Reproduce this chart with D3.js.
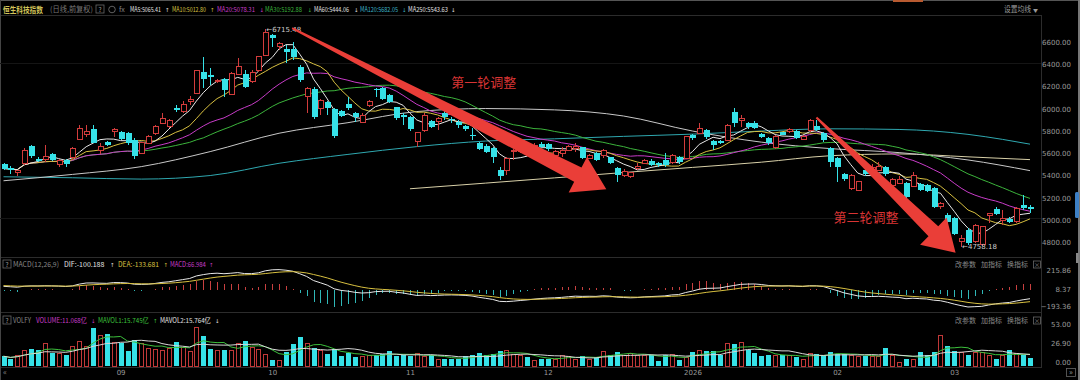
<!DOCTYPE html>
<html>
<head>
<meta charset="utf-8">
<script src="https://cdn.jsdelivr.net/npm/d3@7"></script>
<style>
  body { margin: 0; background: #000; }
  svg { display: block; font-family: "Noto Sans CJK SC", "DejaVu Sans", sans-serif; }
</style>
</head>
<body>
<script>
// daily candles (index 0 = first visible day)
var open = [5502,5469,5424,5508,5664,5553,5544,5592,5502,5538,5559,5727,5772,5814,5628,5700,5793,5787,5778,5718,
  5598,5688,5778,5868,5838,6009,5973,6063,6138,6333,6303,6243,6264,6132,6309,6312,6243,6348,6483,6663,
  6556,6541,6541,6377,6107,6182,6003,6062,5994,5982,6042,5958,5874,6033,6182,6191,6122,6012,5943,5922,
  5703,5808,5892,5883,5958,5910,5880,5844,5763,5688,5667,5649,5449,5449,5614,5620,5660,5640,5680,5682,
  5584,5599,5629,5643,5652,5554,5599,5584,5563,5464,5404,5389,5464,5509,5533,5509,5539,5518,5569,5554,
  5760,5778,5808,5709,5709,5718,5973,5892,5874,5874,5772,5739,5652,5787,5793,5799,5724,5802,5844,5778,
  5644,5554,5413,5284,5269,5449,5449,5449,5473,5314,5329,5329,5305,5323,5314,5284,5120,5045,5015,4806,
  4910,4806,4776,5045,5099,4994,5012,4985,5135,5114];
var high = [5514,5484,5454,5643,5676,5570,5673,5600,5553,5550,5658,5853,5853,5853,5688,5712,5823,5800,5793,5733,
  5705,5760,5853,5958,5905,6033,6072,6114,6348,6468,6363,6270,6273,6333,6453,6348,6348,6474,6715.48,6672,
  6601,6571,6601,6392,6197,6197,6092,6071,6003,5988,6107,5973,5958,6080,6190,6200,6135,6020,5958,5935,
  5793,5958,5900,5928,5988,5925,5895,5850,5823,5700,5680,5660,5473,5563,5635,5665,5675,5690,5700,5690,
  5625,5658,5670,5694,5660,5595,5610,5640,5570,5479,5455,5435,5509,5545,5545,5520,5599,5592,5580,5758,
  5770,5868,5820,5720,5718,5865,6003,5943,5885,5890,5780,5748,5760,5795,5823,5810,5765,5910,5898,5790,
  5655,5563,5425,5413,5355,5460,5500,5520,5485,5375,5395,5340,5434,5335,5325,5295,5160,5060,5025,4866,
  4925,4965,4950,5066,5120,5090,5025,5115,5225,5135];
var low = [5454,5418,5400,5493,5562,5520,5523,5535,5478,5478,5544,5718,5748,5688,5592,5665,5748,5718,5673,5553,
  5590,5680,5763,5862,5830,5973,5964,6033,6132,6183,6213,6235,6108,6123,6303,6183,6234,6333,6477,6558,
  6526,6407,6437,6242,5958,5904,5943,5943,5733,5928,5988,5883,5868,6020,6107,6080,6050,5900,5853,5800,
  5658,5793,5825,5808,5898,5875,5830,5800,5718,5625,5600,5515,5359,5404,5539,5605,5625,5625,5645,5620,
  5575,5569,5620,5614,5545,5545,5530,5554,5500,5344,5389,5380,5449,5500,5485,5480,5479,5505,5505,5545,
  5722,5770,5730,5629,5680,5708,5838,5838,5820,5815,5740,5675,5640,5760,5785,5725,5715,5790,5800,5705,
  5479,5344,5350,5270,5260,5400,5440,5440,5400,5305,5320,5200,5300,5260,5255,5110,5100,4975,4865,4758.18,
  4780,4795,4770,4970,5045,4955,4975,4975,5090,5060];
var close = [5463,5454,5442,5628,5574,5535,5574,5544,5532,5502,5643,5823,5793,5694,5658,5676,5814,5727,5688,5580,
  5694,5748,5838,5913,5892,5988,6042,6084,6342,6267,6288,6258,6168,6318,6378,6198,6324,6468,6684,6633,
  6586,6511,6466,6257,6182,5922,6077,6003,5754,5934,6003,5922,5943,6062,6167,6092,6062,5913,5922,5814,
  5784,5943,5838,5913,5922,5895,5850,5814,5754,5637,5614,5569,5398,5554,5629,5650,5640,5670,5660,5635,
  5614,5629,5658,5658,5554,5584,5539,5629,5509,5404,5434,5425,5479,5533,5494,5491,5494,5581,5518,5748,
  5733,5823,5742,5673,5688,5853,5868,5913,5832,5826,5748,5688,5748,5766,5814,5733,5754,5898,5808,5718,
  5524,5473,5365,5404,5344,5413,5473,5485,5413,5365,5365,5210,5404,5269,5264,5120,5150,4985,4874,4836,
  4791,4955,4940,5060,5054,5015,4985,5105,5105,5096];
// turnover, 亿
var volume = [13.6,10.4,15,21.7,24,22.6,32,18,18,15,28.5,35,28.5,53,43,44,34,32,21,36,
  32,25,24,22,25,33,26,21,54,42,24,22,22,23,32,35,27,24,17,9,
  9,20,30,41,32,25,22,17,24,14,18,13,14,15,15,17,21,14,15,14,
  18,13.6,15,10,10,10,10,13.6,15,18,15,17,21,21.7,17,15,12.7,8,10,10,
  10,15,13.6,10,13.6,10,12.7,21,15,19.5,15,18,15,15,15,7,15,17,8,12.7,
  19.5,22.6,21,21,15,31.7,30,34,22.6,18,13.6,16,15,15,15,12.7,10,18,17,15,
  19.5,17,17,15,13.6,13.6,13.6,13.6,25,16,6,10,10,19.5,15,19.5,43,28.5,21,19.5,
  15,19.5,19.5,15,10,15,22.6,18,15,11.068];

// long moving averages at sample days
var ma60Idx = [0,10,20,30,40,50,60,70,80,90,100,110,120,130,140,149];
var ma60Val = [5353,5410,5480,5615,5780,5875,5975,6002,5990,5935,5800,5700,5642,5606,5540,5444];
var ma120Idx = [0,10,20,30,40,50,60,70,80,90,100,110,120,130,140,145,149];
var ma120Val = [5389,5380,5368,5400,5510,5590,5660,5710,5730,5752,5772,5800,5820,5814,5770,5725,5682];
var ma250Idx = [59,70,80,90,100,110,120,130,140,149];
var ma250Val = [5281,5332,5379,5427,5473,5520,5578,5594,5568,5543];

var monthIdx = [17, 39, 59, 79, 100, 121, 138];
var monthLabels = ["09", "10", "11", "12", "2026", "02", "03"];
var priceTicks = [6600, 6400, 6200, 6000, 5800, 5600, 5400, 5200, 5000, 4800];
var macdTicks = [215.86, 8.37, -193.36];
var volTicks = [53, 26.9, 0];
var macdSeed = {dif: 40, dea: 45};

var headerItems = [
  {x: 130, w: 31, t: "MA5:5065.41", c: "#e0e0e0"}, {x: 165, t: "↑", c: "#e0e0e0"},
  {x: 172, w: 34, t: "MA10:5012.80", c: "#d8c040"}, {x: 210, t: "↑", c: "#d8c040"},
  {x: 217, w: 38, t: "MA20:5078.31", c: "#c83cc8"}, {x: 259.5, t: "↓", c: "#c83cc8"},
  {x: 265, w: 37, t: "MA30:5192.88", c: "#3cb43c"}, {x: 307.5, t: "↓", c: "#3cb43c"},
  {x: 314, w: 35, t: "MA60:5444.06", c: "#e0e0e0"}, {x: 354, t: "↓", c: "#e0e0e0"},
  {x: 360, w: 38, t: "MA120:5682.05", c: "#3cb4c8"}, {x: 402, t: "↓", c: "#3cb4c8"},
  {x: 408, w: 40, t: "MA250:5543.63", c: "#e0e0e0"}, {x: 451, t: "↓", c: "#e0e0e0"}
];
var macdItems = [
  {x: 13, w: 46, t: "MACD(12,26,9)", c: "#888"},
  {x: 64, w: 42, t: "DIF:-100.188", c: "#e0e0e0"}, {x: 110, t: "↑", c: "#e0e0e0"},
  {x: 118, w: 41, t: "DEA:-133.681", c: "#d8c040"}, {x: 163.5, t: "↑", c: "#d8c040"},
  {x: 170, w: 36, t: "MACD:66.984", c: "#c83cc8"}, {x: 209, t: "↑", c: "#c83cc8"}
];
var volItems = [
  {x: 13, w: 18, t: "VOLFY", c: "#888"},
  {x: 36, w: 51, t: "VOLUME:11.068亿", c: "#c83cc8"}, {x: 91, t: "↓", c: "#c83cc8"},
  {x: 98, w: 51, t: "MAVOL1:15.745亿", c: "#3cc03c"}, {x: 153, t: "↑", c: "#3cc03c"},
  {x: 160, w: 51, t: "MAVOL2:15.764亿", c: "#e0e0e0"}, {x: 215, t: "↓", c: "#e0e0e0"}
];

var upColor = "#d23c3c", downColor = "#36e2e8";
var width = 1080, height = 380;

var x = d3.scaleLinear().domain([0, 149]).range([3.5, 1030]);
var y = d3.scaleLinear().domain([4800, 6600]).range([242.3, 42]);
var yMacd = d3.scaleLinear().domain([-193.36, 215.86]).range([307, 270]);
var yVol = d3.scaleLinear().domain([0, 53]).range([366, 328]);

function sma(arr, n) {
  return arr.map(function(d, i) { return d3.mean(arr.slice(Math.max(0, i - n + 1), i + 1)); });
}

var svg = d3.select("body").append("svg")
    .attr("width", width)
    .attr("height", height)
    .style("background", "#000");

svg.append("defs").append("clipPath").attr("id", "mainClip")
  .append("rect").attr("x", 0).attr("y", 16).attr("width", 1041).attr("height", 241);

// squeeze a text horizontally into w pixels (condensed look of the terminal font)
function fitText(sel, tx, ty, w) {
  var natural = sel.node().getComputedTextLength();
  var k = natural > 0 ? Math.min(1, w / natural) : 1;
  sel.attr("x", 0).attr("y", 0).attr("transform", "translate(" + tx + "," + ty + ") scale(" + k + ",1)");
}

// frame and separators
var sep = "#2c2c2c";
svg.append("line").attr("x1", 0).attr("x2", 1080).attr("y1", 0.5).attr("y2", 0.5).attr("stroke", "#555");
svg.append("rect").attr("x", 893).attr("y", 0).attr("width", 30).attr("height", 2).attr("fill", "#b85a30");
svg.append("line").attr("x1", 0).attr("x2", 1042).attr("y1", 15.5).attr("y2", 15.5).attr("stroke", sep);
[257.5, 312.5, 367.5].forEach(function(v) {
  svg.append("line").attr("x1", 0).attr("x2", 1042).attr("y1", v).attr("y2", v).attr("stroke", sep);
});
svg.append("line").attr("x1", 1041.5).attr("x2", 1041.5).attr("y1", 15).attr("y2", 368).attr("stroke", sep);
svg.append("line").attr("x1", 0.5).attr("x2", 0.5).attr("y1", 0).attr("y2", 380).attr("stroke", "#444");
svg.append("line").attr("x1", 1079).attr("x2", 1079).attr("y1", 0).attr("y2", 380).attr("stroke", "#777").attr("stroke-width", 2);
svg.append("rect").attr("x", 1075).attr("y", 192).attr("width", 4).attr("height", 26).attr("rx", 1.5).attr("fill", "#3d7fc4");
svg.append("rect").attr("x", 1076).attr("y", 253).attr("width", 2.5).attr("height", 10).attr("fill", "#888");

// header
fitText(svg.append("text").attr("font-size", 8.5).attr("font-weight", "bold")
  .attr("fill", "#d2c45a").text("恒生科技指数"), 3, 12.5, 40);
fitText(svg.append("text").attr("font-size", 7.5).attr("fill", "#777").text("(日线,前复权)"), 50, 12, 43);

function helpBox(g, bx, by) {
  g.append("rect").attr("x", bx).attr("y", by - 4.5).attr("width", 8).attr("height", 8)
    .attr("fill", "none").attr("stroke", "#666").attr("stroke-width", 0.8);
  g.append("text").attr("x", bx + 4).attr("y", by + 2.5).attr("text-anchor", "middle")
    .attr("font-size", 6.5).attr("fill", "#999").text("?");
}
helpBox(svg, 96, 9.5);
svg.append("circle").attr("cx", 112).attr("cy", 9.5).attr("r", 3.3).attr("fill", "none").attr("stroke", "#777").attr("stroke-width", 0.8);
svg.append("text").attr("x", 119).attr("y", 12).attr("font-size", 7).attr("fill", "#888").text("fx");

function drawItems(items, yy) {
  items.forEach(function(d) {
    var t = svg.append("text").attr("fill", d.c).text(d.t);
    if (d.w) {
      t.attr("font-size", 7);
      fitText(t, d.x, yy, d.w);
    } else {
      t.attr("x", d.x).attr("y", yy).attr("font-size", 5.5).attr("font-family", "DejaVu Sans");
    }
  });
}
drawItems(headerItems, 12);
fitText(svg.append("text").attr("font-size", 7.5).attr("fill", "#999").text("设置均线"), 1004, 12, 27);
svg.append("text").attr("x", 1033).attr("y", 11.5).attr("font-size", 5).attr("fill", "#999").text("▼");

// price axis
var yAxis = svg.append("g").attr("transform", "translate(1071,0)")
    .call(d3.axisRight(y).tickValues(priceTicks).tickFormat(d3.format(".2f")).tickSize(0));
yAxis.select(".domain").remove();
yAxis.selectAll("text").attr("x", 0).attr("text-anchor", "end").attr("fill", "#9a9a9a")
  .attr("font-size", 7).attr("font-family", "DejaVu Sans");

// faint guide lines
[63.5, 218.5].forEach(function(v) {
  svg.append("line").attr("x1", 0).attr("x2", 1041).attr("y1", v).attr("y2", v).attr("stroke", "#151515");
});

var main = svg.append("g").attr("clip-path", "url(#mainClip)");

// moving averages
var idx = d3.range(close.length);
var lineFrom = function(vals) {
  return d3.line().x(function(i) { return x(i); }).y(function(i) { return y(vals[i]); });
};
var sampled = d3.line().x(function(d) { return x(d[0]); }).y(function(d) { return y(d[1]); }).curve(d3.curveMonotoneX);

var longMAs = [
  {i: ma250Idx, v: ma250Val, c: "#d8d0a8"},
  {i: ma120Idx, v: ma120Val, c: "#2fa8b0"},
  {i: ma60Idx, v: ma60Val, c: "#c8c8c8"}
];
longMAs.forEach(function(m) {
  main.append("path").datum(d3.zip(m.i, m.v)).attr("fill", "none").attr("stroke", m.c)
    .attr("stroke-width", 1).attr("d", sampled);
});
var shortMAs = [
  {n: 30, c: "#3cb43c"},
  {n: 20, c: "#c83cc8"},
  {n: 10, c: "#d8c040"},
  {n: 5, c: "#e8e8e8"}
];
shortMAs.forEach(function(m) {
  var vals = sma(close, m.n);
  main.append("path").datum(idx).attr("fill", "none").attr("stroke", m.c)
    .attr("stroke-width", 1).attr("d", lineFrom(vals));
});

// candles
var candles = main.append("g").attr("shape-rendering", "crispEdges");
idx.forEach(function(i) {
  var up = close[i] >= open[i];
  var col = up ? upColor : downColor;
  var cx = Math.round(x(i)) + 0.5;
  var top = y(Math.max(open[i], close[i])), bot = y(Math.min(open[i], close[i]));
  if (bot - top < 1) bot = top + 1;
  candles.append("line").attr("x1", cx).attr("x2", cx).attr("y1", y(high[i])).attr("y2", top).attr("stroke", col);
  candles.append("line").attr("x1", cx).attr("x2", cx).attr("y1", bot).attr("y2", y(low[i])).attr("stroke", col);
  if (up) {
    candles.append("rect").attr("x", cx - 2.5).attr("y", top).attr("width", 5).attr("height", bot - top)
      .attr("fill", "#000").attr("stroke", col);
  } else {
    candles.append("rect").attr("x", cx - 3).attr("y", top).attr("width", 6).attr("height", bot - top)
      .attr("fill", col);
  }
});

// high / low marks
var hiI = d3.maxIndex(high), loI = d3.minIndex(low);
svg.append("text").attr("x", x(hiI) + 1).attr("y", y(high[hiI]) + 2.5).attr("font-size", 7)
  .attr("fill", "#cfcfcf").attr("font-family", "DejaVu Sans").text("←" + d3.format(".2f")(high[hiI]));
svg.append("text").attr("x", x(loI) + 1).attr("y", y(low[loI]) + 2.5).attr("font-size", 7)
  .attr("fill", "#cfcfcf").attr("font-family", "DejaVu Sans").text("←" + d3.format(".2f")(low[loI]));

// red annotation arrows
function arrowPoints(a) {
  var x1 = x(a.from[0]), y1 = y(a.from[1]), x2 = x(a.to[0]), y2 = y(a.to[1]);
  var dx = x2 - x1, dy = y2 - y1, len = Math.sqrt(dx * dx + dy * dy);
  var ux = dx / len, uy = dy / len, nx = -uy, ny = ux;
  var bx = x2 - ux * a.head, by = y2 - uy * a.head;
  return [
    [x1 + nx * 1, y1 + ny * 1],
    [bx + nx * a.neck, by + ny * a.neck],
    [bx + nx * a.half, by + ny * a.half],
    [x2, y2],
    [bx - nx * a.half, by - ny * a.half],
    [bx - nx * a.neck, by - ny * a.neck],
    [x1 - nx * 1, y1 - ny * 1]
  ];
}
var arrows = [
  {from: [41.9, 6724], to: [87.5, 5276], head: 32, half: 20, neck: 8},
  {from: [118, 5922], to: [138.2, 4706], head: 31, half: 19, neck: 7}
];
arrows.forEach(function(a) {
  svg.append("polygon").attr("points", arrowPoints(a).map(function(p) { return p.join(","); }).join(" "))
    .attr("fill", "#ea3e38");
});
var notes = [
  {at: [69.7, 6239], t: "第一轮调整"},
  {at: [125.2, 5030], t: "第二轮调整"}
];
notes.forEach(function(n) {
  svg.append("text").attr("x", x(n.at[0])).attr("y", y(n.at[1]) + 5).attr("text-anchor", "middle")
    .attr("font-size", 13).attr("fill", "#d83434").text(n.t);
});

// MACD panel
helpBox(svg, 3, 264.5);
drawItems(macdItems, 267);
var ema12 = close[0] + 20, ema26 = close[0] - 20, dea = macdSeed.dea;
var dif = [], deaArr = [], bar = [];
close.forEach(function(c) {
  ema12 = (2 * c + 11 * ema12) / 13;
  ema26 = (2 * c + 25 * ema26) / 27;
  var d = ema12 - ema26;
  dea = (2 * d + 8 * dea) / 10;
  dif.push(d); deaArr.push(dea); bar.push(2 * (d - dea));
});
var macdG = svg.append("g");
var macdBars = macdG.append("g").attr("shape-rendering", "crispEdges");
idx.forEach(function(i) {
  macdBars.append("line").attr("x1", Math.round(x(i)) + 0.5).attr("x2", Math.round(x(i)) + 0.5)
    .attr("y1", yMacd(0)).attr("y2", yMacd(bar[i]))
    .attr("stroke", bar[i] >= 0 ? "#c84040" : "#2fb8b8");
});
var macdLine = function(vals) {
  return d3.line().x(function(i) { return x(i); }).y(function(i) { return yMacd(vals[i]); });
};
macdG.append("path").datum(idx).attr("fill", "none").attr("stroke", "#e8e8e8").attr("d", macdLine(dif));
macdG.append("path").datum(idx).attr("fill", "none").attr("stroke", "#d8c040").attr("d", macdLine(deaArr));
macdTicks.forEach(function(v) {
  svg.append("text").attr("x", 1071).attr("y", Math.min(yMacd(v) + 3, 309)).attr("text-anchor", "end")
    .attr("font-size", 7).attr("fill", "#9a9a9a").attr("font-family", "DejaVu Sans").text(d3.format(".2f")(v));
});

// volume panel
helpBox(svg, 3, 320.5);
drawItems(volItems, 323);
var volBars = svg.append("g").attr("shape-rendering", "crispEdges");
idx.forEach(function(i) {
  var up = close[i] >= open[i];
  var bx = Math.round(x(i)) - 2;
  if (up) {
    volBars.append("rect").attr("x", bx + 0.5).attr("y", yVol(volume[i]) + 0.5).attr("width", 4)
      .attr("height", yVol(0) - yVol(volume[i]) - 0.5).attr("fill", "none").attr("stroke", "#c03838");
  } else {
    volBars.append("rect").attr("x", bx).attr("y", yVol(volume[i])).attr("width", 5)
      .attr("height", yVol(0) - yVol(volume[i])).attr("fill", downColor);
  }
});
var volLine = function(vals) {
  return d3.line().x(function(i) { return x(i); }).y(function(i) { return yVol(vals[i]); });
};
svg.append("path").datum(idx).attr("fill", "none").attr("stroke", "#3cc03c").attr("d", volLine(sma(volume, 5)));
svg.append("path").datum(idx).attr("fill", "none").attr("stroke", "#d8d8d8").attr("d", volLine(sma(volume, 10)));
volTicks.forEach(function(v) {
  svg.append("text").attr("x", 1071).attr("y", yVol(v) - 1).attr("text-anchor", "end")
    .attr("font-size", 7).attr("fill", "#9a9a9a").attr("font-family", "DejaVu Sans").text(d3.format(".2f")(v));
});

// panel buttons
[264.5, 320.5].forEach(function(by) {
  [["改参数", 955], ["加指标", 981], ["换指标", 1007]].forEach(function(b) {
    fitText(svg.append("text").attr("font-size", 7).attr("fill", "#8a8a8a").text(b[0]), b[1], by + 2.5, 21);
  });
  svg.append("rect").attr("x", 1033.5).attr("y", by - 3.5).attr("width", 7).attr("height", 7)
    .attr("fill", "none").attr("stroke", "#666").attr("stroke-width", 0.8);
  svg.append("text").attr("x", 1037).attr("y", by + 2).attr("text-anchor", "middle").attr("font-size", 6)
    .attr("fill", "#888").text("×");
});

// time axis
var xAxis = svg.append("g").attr("transform", "translate(0,368)")
    .call(d3.axisBottom(x).tickValues(monthIdx).tickFormat(function(d, i) { return monthLabels[i]; }).tickSize(0));
xAxis.select(".domain").remove();
xAxis.selectAll("text").attr("y", 7).attr("dy", "0").attr("fill", "#9a9a9a").attr("font-size", 7).attr("font-family", "DejaVu Sans");

svg.append("text").attr("x", 3).attr("y", 375).attr("font-size", 8).attr("fill", "#888").text("«");
svg.append("rect").attr("x", 1066.5).attr("y", 368.5).attr("width", 9).attr("height", 8)
  .attr("fill", "none").attr("stroke", "#666").attr("stroke-width", 0.8);
svg.append("text").attr("x", 1071).attr("y", 375).attr("text-anchor", "middle").attr("font-size", 8).attr("fill", "#999").text("»");
</script>
</body>
</html>
